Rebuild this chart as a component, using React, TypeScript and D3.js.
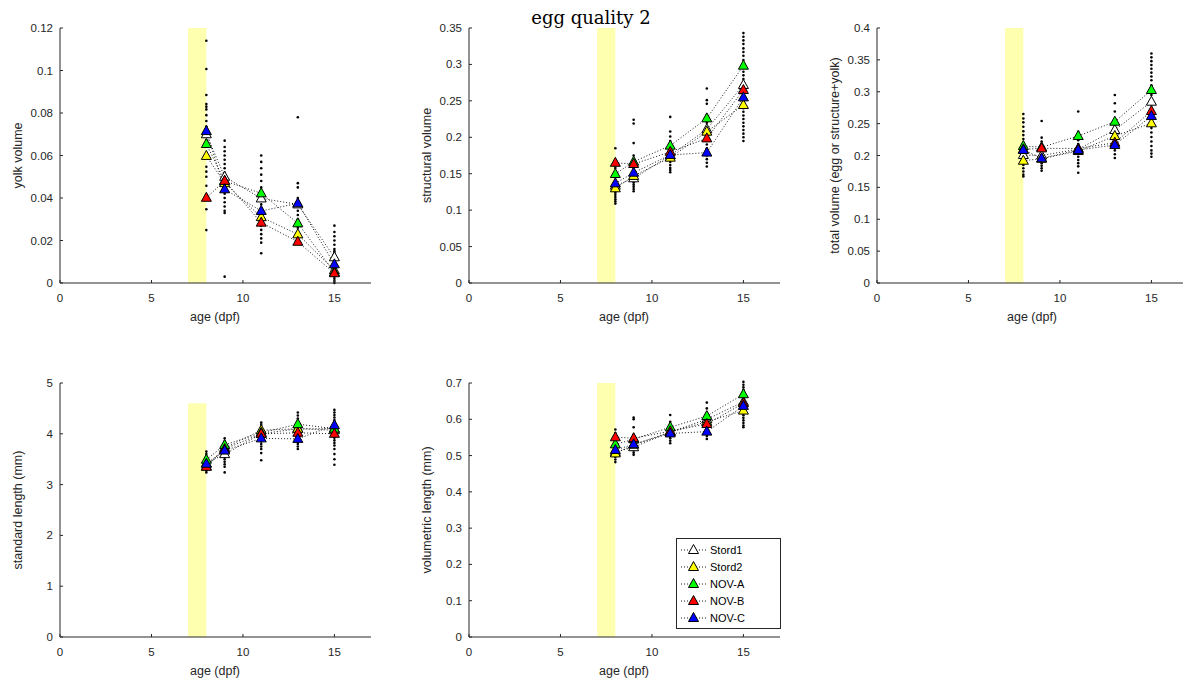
import React from "react";
import * as d3 from "d3";

// ---------- data ----------
const ages = [8, 9, 11, 13, 15];
const seriesNames = ["Stord1", "Stord2", "NOV-A", "NOV-B", "NOV-C"];
const seriesColors = ["#ffffff", "#ffff00", "#00ff00", "#ff0000", "#0000ff"];
const xTicks = [0, 5, 10, 15];

// yolk volume: group means per age [Stord1, Stord2, NOV-A, NOV-B, NOV-C]
const yolkMeans = [
  [0.070, 0.050, 0.0398, 0.037, 0.0121],
  [0.0598, 0.047, 0.031, 0.0229, 0.006],
  [0.0654, 0.048, 0.0422, 0.0281, 0.005],
  [0.0401, 0.0481, 0.0284, 0.0194, 0.0046],
  [0.0715, 0.0441, 0.0339, 0.0375, 0.0088],
];
const yolkDots = [
  [0.114, 0.1007, 0.0885, 0.0842, 0.083, 0.0817, 0.079, 0.0762, 0.0736, 0.0697, 0.0673, 0.0641, 0.0594, 0.0547, 0.0524, 0.05, 0.0458, 0.0414, 0.0347, 0.0249],
  [0.067, 0.064, 0.062, 0.06, 0.058, 0.056, 0.054, 0.052, 0.05, 0.048, 0.046, 0.044, 0.042, 0.04, 0.038, 0.036, 0.034, 0.033, 0.003],
  [0.060, 0.057, 0.054, 0.051, 0.048, 0.045, 0.043, 0.041, 0.039, 0.037, 0.035, 0.033, 0.031, 0.029, 0.027, 0.025, 0.023, 0.021, 0.019, 0.014],
  [0.078, 0.047, 0.045, 0.040, 0.038, 0.036, 0.034, 0.032, 0.030, 0.028, 0.026, 0.024, 0.022, 0.021, 0.020, 0.019],
  [0.027, 0.024, 0.022, 0.020, 0.018, 0.016, 0.015, 0.014, 0.013, 0.012, 0.011, 0.010, 0.009, 0.008, 0.007, 0.006, 0.005, 0.004, 0.003, 0.002, 0.001, 0.0],
];

// structural volume
const structMeans = [
  [0.1336, 0.1437, 0.175, 0.211, 0.2718],
  [0.130, 0.147, 0.172, 0.2077, 0.2443],
  [0.1496, 0.1665, 0.1885, 0.226, 0.2983],
  [0.165, 0.1633, 0.180, 0.1985, 0.2649],
  [0.1368, 0.1514, 0.1757, 0.179, 0.2548],
];
const structDots = [
  [0.185, 0.165, 0.158, 0.150, 0.145, 0.140, 0.136, 0.133, 0.130, 0.127, 0.124, 0.121, 0.118, 0.115, 0.112, 0.109],
  [0.224, 0.219, 0.192, 0.175, 0.170, 0.166, 0.162, 0.158, 0.155, 0.152, 0.148, 0.145, 0.141, 0.138, 0.135, 0.132, 0.129, 0.126],
  [0.228, 0.208, 0.201, 0.195, 0.190, 0.186, 0.182, 0.178, 0.174, 0.170, 0.166, 0.162, 0.158, 0.155, 0.152],
  [0.267, 0.251, 0.246, 0.231, 0.225, 0.220, 0.215, 0.210, 0.205, 0.200, 0.195, 0.190, 0.185, 0.180, 0.175, 0.170, 0.165, 0.160],
  [0.343, 0.338, 0.333, 0.328, 0.322, 0.317, 0.312, 0.306, 0.300, 0.295, 0.290, 0.285, 0.280, 0.275, 0.270, 0.265, 0.260, 0.255, 0.250, 0.245, 0.240, 0.235, 0.230, 0.225, 0.220, 0.215, 0.210, 0.205, 0.200, 0.195],
];

// total volume
const totalMeans = [
  [0.2008, 0.200, 0.210, 0.240, 0.2844],
  [0.1918, 0.195, 0.207, 0.2306, 0.2505],
  [0.2149, 0.213, 0.2306, 0.253, 0.3027],
  [0.2097, 0.2112, 0.211, 0.220, 0.2698],
  [0.2086, 0.1955, 0.2086, 0.2165, 0.262],
];
const totalDots = [
  [0.265, 0.258, 0.252, 0.245, 0.238, 0.232, 0.226, 0.220, 0.215, 0.210, 0.205, 0.200, 0.195, 0.190, 0.185, 0.180, 0.175, 0.170, 0.167],
  [0.254, 0.228, 0.222, 0.216, 0.211, 0.206, 0.201, 0.196, 0.192, 0.188, 0.184, 0.180, 0.176],
  [0.269, 0.237, 0.230, 0.224, 0.218, 0.213, 0.208, 0.203, 0.198, 0.193, 0.188, 0.183, 0.173],
  [0.295, 0.282, 0.269, 0.256, 0.250, 0.244, 0.238, 0.232, 0.226, 0.220, 0.214, 0.208, 0.202, 0.196],
  [0.360, 0.354, 0.348, 0.342, 0.336, 0.330, 0.324, 0.318, 0.310, 0.302, 0.295, 0.288, 0.280, 0.272, 0.265, 0.258, 0.250, 0.243, 0.236, 0.229, 0.222, 0.215, 0.208, 0.203, 0.198],
];

// standard length
const slMeans = [
  [3.42, 3.60, 4.00, 4.10, 4.10],
  [3.36, 3.72, 4.07, 4.10, 4.07],
  [3.49, 3.78, 4.02, 4.19, 4.10],
  [3.35, 3.70, 4.00, 4.02, 4.00],
  [3.41, 3.67, 3.91, 3.90, 4.17],
];
const slDots = [
  [3.65, 3.60, 3.55, 3.50, 3.45, 3.40, 3.36, 3.32, 3.28, 3.24],
  [3.91, 3.85, 3.80, 3.75, 3.70, 3.65, 3.60, 3.55, 3.50, 3.45, 3.40, 3.35, 3.24],
  [4.22, 4.18, 4.14, 4.10, 4.06, 4.02, 3.98, 3.94, 3.90, 3.85, 3.80, 3.75, 3.70, 3.62, 3.48],
  [4.42, 4.36, 4.30, 4.25, 4.20, 4.15, 4.10, 4.05, 4.00, 3.95, 3.90, 3.85, 3.80, 3.75, 3.70],
  [4.47, 4.42, 4.37, 4.32, 4.27, 4.22, 4.17, 4.12, 4.07, 4.02, 3.97, 3.92, 3.87, 3.82, 3.77, 3.70, 3.60, 3.50, 3.39],
];

// volumetric length
const vlMeans = [
  [0.510, 0.523, 0.565, 0.600, 0.648],
  [0.506, 0.530, 0.565, 0.593, 0.624],
  [0.531, 0.545, 0.578, 0.609, 0.669],
  [0.5504, 0.548, 0.567, 0.587, 0.644],
  [0.5153, 0.531, 0.561, 0.566, 0.637],
];
const vlDots = [
  [0.572, 0.562, 0.553, 0.545, 0.538, 0.531, 0.524, 0.517, 0.510, 0.503, 0.496, 0.489, 0.482],
  [0.605, 0.600, 0.578, 0.557, 0.550, 0.543, 0.536, 0.529, 0.522, 0.515, 0.508, 0.502],
  [0.612, 0.593, 0.583, 0.576, 0.569, 0.562, 0.555, 0.548, 0.541, 0.534],
  [0.646, 0.630, 0.618, 0.610, 0.602, 0.594, 0.586, 0.578, 0.570, 0.562, 0.554, 0.546],
  [0.703, 0.695, 0.688, 0.681, 0.674, 0.667, 0.660, 0.653, 0.646, 0.639, 0.632, 0.625, 0.618, 0.611, 0.604, 0.597, 0.590, 0.583, 0.578],
];

const yolkTicks = [0, 0.02, 0.04, 0.06, 0.08, 0.1, 0.12];
const structTicks = [0, 0.05, 0.1, 0.15, 0.2, 0.25, 0.3, 0.35];
const totalTicks = [0, 0.05, 0.1, 0.15, 0.2, 0.25, 0.3, 0.35, 0.4];
const slTicks = [0, 1, 2, 3, 4, 5];
const vlTicks = [0, 0.1, 0.2, 0.3, 0.4, 0.5, 0.6, 0.7];

const panels = [
  { left: 60, top: 28, w: 311, h: 255, ymax: 0.12, band: 0.12, ticks: yolkTicks, label: "yolk volume", means: yolkMeans, dots: yolkDots },
  { left: 469, top: 28, w: 311, h: 255, ymax: 0.35, band: 0.35, ticks: structTicks, label: "structural volume", means: structMeans, dots: structDots },
  { left: 877, top: 28, w: 311, h: 255, ymax: 0.4, band: 0.4, ticks: totalTicks, label: "total volume (egg or structure+yolk)", means: totalMeans, dots: totalDots },
  { left: 60, top: 383, w: 311, h: 254, ymax: 5, band: 4.6, ticks: slTicks, label: "standard length (mm)", means: slMeans, dots: slDots },
  { left: 469, top: 383, w: 311, h: 254, ymax: 0.7, band: 0.7, ticks: vlTicks, label: "volumetric length (mm)", means: vlMeans, dots: vlDots, legend: true },
];

const AX = "#262626";
const FONT = "'Liberation Sans', Arial, Helvetica, sans-serif";
const tri = "M0,-5.5L5,3.5L-5,3.5Z";

function Panel({ p }: { p: any }) {
  const x = d3.scaleLinear().domain([0, 17]).range([p.left, p.left + p.w]);
  const y = d3.scaleLinear().domain([0, p.ymax]).range([p.top + p.h, p.top]);
  const line = d3.line<number>().x((_, i) => x(ages[i])).y((d) => y(d));
  const fmt = (v: number) => String(+v.toFixed(3));
  return (
    <g>
      <rect x={x(7)} y={y(p.band)} width={x(8) - x(7)} height={y(0) - y(p.band)} fill="#ffffb0" />
      {/* dots */}
      {p.dots.map((arr: number[], ai: number) =>
        arr.map((v, k) => <circle key={`d${ai}-${k}`} cx={x(ages[ai])} cy={y(v)} r={1.3} fill="#000" />)
      )}
      {/* lines */}
      {p.means.map((s: number[], si: number) => (
        <path key={`l${si}`} d={line(s) || ""} fill="none" stroke="#000" strokeWidth={0.9} strokeDasharray="1,2" />
      ))}
      {/* triangles */}
      {p.means.map((s: number[], si: number) =>
        s.map((v, ai) => (
          <path key={`t${si}-${ai}`} d={tri} transform={`translate(${x(ages[ai])},${y(v)})`} fill={seriesColors[si]} stroke="#000" strokeWidth={1} />
        ))
      )}
      {/* axes */}
      <line x1={p.left} x2={p.left + p.w} y1={p.top + p.h} y2={p.top + p.h} stroke={AX} strokeWidth={1} />
      <line x1={p.left} x2={p.left} y1={p.top} y2={p.top + p.h} stroke={AX} strokeWidth={1} />
      {xTicks.map((t) => (
        <g key={`xt${t}`}>
          <line x1={x(t)} x2={x(t)} y1={p.top + p.h} y2={p.top + p.h - 3} stroke={AX} />
          <text x={x(t)} y={p.top + p.h + 19} textAnchor="middle" fontSize={11.5} fill={AX} fontFamily={FONT}>{t}</text>
        </g>
      ))}
      {p.ticks.map((t: number) => (
        <g key={`yt${t}`}>
          <line x1={p.left} x2={p.left + 3} y1={y(t)} y2={y(t)} stroke={AX} />
          <text x={p.left - 7} y={y(t) + 4} textAnchor="end" fontSize={11.5} fill={AX} fontFamily={FONT}>{fmt(t)}</text>
        </g>
      ))}
      <text x={p.left + 155} y={p.top + p.h + 38} textAnchor="middle" fontSize={12.5} fill={AX} fontFamily={FONT}>age (dpf)</text>
      <text transform={`translate(${p.left - 38},${p.top + p.h / 2}) rotate(-90)`} textAnchor="middle" fontSize={12.5} fill={AX} fontFamily={FONT}>{p.label}</text>
      {p.legend && (
        <g>
          <rect x={676.5} y={538.5} width={104} height={90} fill="#fff" stroke={AX} strokeWidth={1} />
          {seriesNames.map((n, i) => (
            <g key={n}>
              <line x1={681} x2={706} y1={550 + i * 17} y2={550 + i * 17} stroke="#000" strokeWidth={0.9} strokeDasharray="1,2" />
              <path d={tri} transform={`translate(693.5,${550 + i * 17})`} fill={seriesColors[i]} stroke="#000" strokeWidth={1} />
              <text x={710} y={554 + i * 17} fontSize={11} fill="#000" fontFamily={FONT}>{n}</text>
            </g>
          ))}
        </g>
      )}
    </g>
  );
}

export default function App() {
  return (
    <svg width={1183} height={684} style={{ position: "absolute", left: 0, top: 0, background: "#fff" }}>
      <rect width={1183} height={684} fill="#fff" />
      {panels.map((p, i) => (
        <Panel key={i} p={p} />
      ))}
      <text x={591} y={24} textAnchor="middle" fontSize={18} fill="#000" fontFamily="'DejaVu Serif', 'Liberation Serif', serif">egg quality 2</text>
    </svg>
  );
}
